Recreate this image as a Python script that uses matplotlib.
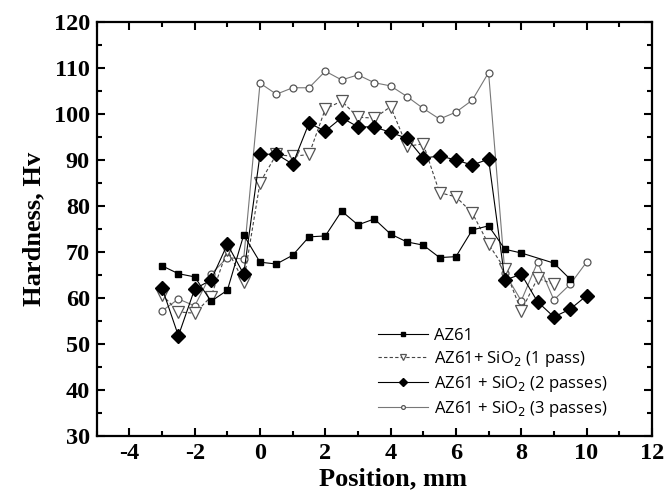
import matplotlib
matplotlib.use("Agg")
import matplotlib.pyplot as plt
from matplotlib.ticker import MultipleLocator

plt.rcParams['axes.unicode_minus'] = False

# AZ61 base metal
x_az61 = [-3, -2.5, -2, -1.5, -1, -0.5, 0, 0.5, 1, 1.5, 2, 2.5, 3, 3.5, 4, 4.5,
          5, 5.5, 6, 6.5, 7, 7.5, 8, 9, 9.5]
y_az61 = [67, 65.3, 64.6, 59.3, 61.7, 73.7, 67.8, 67.4, 69.3, 73.3, 73.5, 78.9,
          75.9, 77.2, 73.9, 72.2, 71.5, 68.8, 69.0, 74.8, 75.7, 70.6, 69.8, 67.6, 64.1]

# AZ61 + SiO2, 1 pass
x_p1 = [-3, -2.5, -2, -1.5, -1, -0.5, 0, 0.5, 1, 1.5, 2, 2.5, 3, 3.5, 4, 4.5,
        5, 5.5, 6, 6.5, 7, 7.5, 8, 8.5, 9]
y_p1 = [60.7, 57.0, 56.7, 60.3, 70.5, 63.6, 85.1, 91.2, 90.8, 91.2, 101.1, 102.8,
        99.3, 99.1, 101.6, 93.0, 93.5, 82.9, 82.0, 78.5, 71.7, 66.3, 57.2, 64.3, 63.0]

# AZ61 + SiO2, 2 passes
x_p2 = [-3, -2.5, -2, -1.5, -1, -0.5, 0, 0.5, 1, 1.5, 2, 2.5, 3, 3.5, 4, 4.5,
        5, 5.5, 6, 6.5, 7, 7.5, 8, 8.5, 9, 9.5, 10]
y_p2 = [62.2, 51.8, 62.0, 63.9, 71.7, 65.2, 91.2, 91.3, 89.1, 98.0, 96.3, 99.2,
        97.2, 97.2, 96.0, 94.7, 90.4, 90.9, 90.0, 88.9, 90.2, 63.9, 65.2, 59.2,
        55.9, 57.6, 60.5]

# AZ61 + SiO2, 3 passes
x_p3 = [-3, -2.5, -2, -1.5, -1, -0.5, 0, 0.5, 1, 1.5, 2, 2.5, 3, 3.5, 4, 4.5,
        5, 5.5, 6, 6.5, 7, 7.5, 8, 8.5, 9, 9.5, 10]
y_p3 = [57.2, 59.8, 58.3, 65.2, 68.8, 68.5, 106.7, 104.3, 105.7, 105.7, 109.3,
        107.4, 108.5, 106.8, 106.1, 103.8, 101.2, 98.9, 100.4, 103.0, 109.0,
        65.4, 59.4, 67.8, 59.6, 63.0, 67.8]

fig = plt.figure(figsize=(6.72, 4.99), dpi=100)
ax = fig.add_axes([0.144, 0.126, 0.826, 0.830])

ax.plot(x_az61, y_az61, color='black', lw=0.8, ls='-', marker='s', ms=4.5,
        mfc='black', mec='black', label='AZ61', zorder=4)
ax.plot(x_p1, y_p1, color='#444444', lw=0.8, ls=(0, (3, 2)), marker='v', ms=8.5,
        mfc='white', mec='#555555', mew=0.9, label='AZ61+ SiO$_2$ (1 pass)', zorder=3)
ax.plot(x_p2, y_p2, color='black', lw=0.8, ls='-', marker='D', ms=7,
        mfc='black', mec='black', label='AZ61 + SiO$_2$ (2 passes)', zorder=5)
ax.plot(x_p3, y_p3, color='#777777', lw=0.8, ls='-', marker='o', ms=5,
        mfc='white', mec='#555555', mew=0.9, label='AZ61 + SiO$_2$ (3 passes)', zorder=2)

ax.set_xlim(-5, 12)
ax.set_ylim(30, 120)
ax.xaxis.set_major_locator(MultipleLocator(2))
ax.xaxis.set_minor_locator(MultipleLocator(1))
ax.yaxis.set_major_locator(MultipleLocator(10))
ax.yaxis.set_minor_locator(MultipleLocator(5))
ax.tick_params(which='both', direction='in', top=True, right=True, width=1.5)
ax.tick_params(which='major', length=6)
ax.tick_params(which='minor', length=3.5)
ax.tick_params(labelsize=17.5, pad=5)
for s in ax.spines.values():
    s.set_linewidth(1.6)

for lab in ax.get_xticklabels() + ax.get_yticklabels():
    lab.set_family('Liberation Serif')
    lab.set_fontweight('bold')

ax.set_xlabel('Position, mm', fontsize=19, fontweight='bold', family='Liberation Serif', labelpad=1)
ax.set_ylabel('Hardness, Hv', fontsize=19, fontweight='bold', family='Liberation Serif', labelpad=6)
ax.xaxis.set_label_coords(0.533, -0.075)

leg = ax.legend(loc='lower left', bbox_to_anchor=(0.48, 0.005), frameon=False,
                prop={'family': 'Open Sans', 'size': 12}, handlelength=3.0,
                markerscale=0.55, labelspacing=0.3, handletextpad=0.35)

fig.savefig('out.png', dpi=100)
